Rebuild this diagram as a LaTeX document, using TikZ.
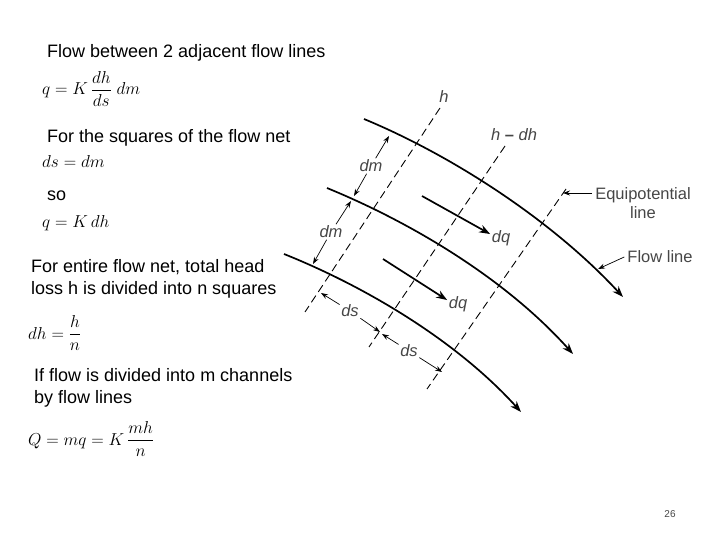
\documentclass[tikz,border=0pt]{standalone}
\usepackage{amsmath}
\usepackage{fontspec}
\setmainfont{Liberation Sans}
\usetikzlibrary{arrows.meta}
\definecolor{NetGray}{RGB}{70,70,70}
\begin{document}
\begin{tikzpicture}[
    x=1pt,y=-1pt,
    txt/.style={anchor=base west,inner sep=0pt,align=left,font=\fontsize{18}{21.5}\selectfont},
    eqn/.style={anchor=base west,inner sep=0pt,font=\fontsize{18.5}{22}\selectfont},
    lab/.style={inner sep=1.5pt,text=NetGray,font=\fontsize{16.5}{19}\selectfont\itshape},
    callout/.style={inner sep=3pt,text=NetGray,align=center,font=\fontsize{16.5}{19}\selectfont},
    flow/.style={line width=1.7pt,-{Stealth[length=11pt,width=8pt]}},
    equi/.style={line width=0.9pt,dash pattern=on 8pt off 4.5pt},
    spacing/.style={line width=0.7pt,-{Stealth[length=7pt,width=5pt]}}
  ]
    \useasboundingbox (0,0) rectangle (720,540);
    % left column
    \node[txt] (t1) at (47,58) {Flow between 2 adjacent flow lines};
    \node[eqn] (e1) at (42,95) {$\displaystyle q=K\,\frac{dh}{ds}\;dm$};
    \node[txt] (t2) at (47,143) {For the squares of the flow net};
    \node[eqn] (e2) at (42,168) {$ds=dm$};
    \node[txt] (t3) at (47,201) {so};
    \node[eqn] (e3) at (42,227) {$q=K\,dh$};
    \node[txt] (t4) at (31,294) {For entire flow net, total head\\loss h is divided into n squares};
    \node[eqn] (e4) at (28,339) {$\displaystyle dh=\frac{h}{n}$};
    \node[txt] (t5) at (34,403) {If flow is divided into m channels\\by flow lines};
    \node[eqn] (e5) at (28,445) {$\displaystyle Q=mq=K\,\frac{mh}{n}$};
    \node[inner sep=0pt,text=NetGray,font=\fontsize{10}{12}\selectfont] (page) at (670,514) {26};
    % equipotential lines
    \node[lab] (h) at (444,97) {h};
    \node[lab] (hdh) at (514,135) {h {\upshape\bfseries--} dh};
    \coordinate (a1) at (440,108);
    \coordinate (a2) at (305,312);
    \coordinate (b1) at (505,146);
    \coordinate (b2) at (369,347);
    \coordinate (c1) at (566,189);
    \coordinate (c2) at (427,389);
    \draw[equi] (a1) -- (a2);
    \draw[equi] (b1) -- (b2);
    \draw[equi] (c1) -- (c2);
    % flow lines
    \coordinate (f1) at (364,119);
    \coordinate (f2) at (623,297);
    \coordinate (g1) at (327,188);
    \coordinate (g2) at (573,354);
    \coordinate (k1) at (284,254);
    \coordinate (k2) at (521,412);
    \draw[flow] (f1) .. controls (451,155) and (552,220) .. (f2);
    \draw[flow] (g1) .. controls (410,222) and (505,278) .. (g2);
    \draw[flow] (k1) .. controls (364,286) and (456,340) .. (k2);
    % flow increments
    \node[lab] (dq1) at (501,238) {dq};
    \node[lab] (dq2) at (458,304) {dq};
    \coordinate (q1) at (422,196);
    \coordinate (q2) at (383,259);
    \draw[flow] (q1) -- (dq1.160);
    \draw[flow] (q2) -- (dq2.160);
    % spacing marks
    \node[lab] (dm1) at (371,166) {dm};
    \node[lab] (dm2) at (331,232) {dm};
    \node[lab] (ds1) at (350,311) {ds};
    \node[lab] (ds2) at (409,351) {ds};
    \coordinate (m1) at (389,136);
    \coordinate (m2) at (354,196);
    \coordinate (m3) at (351,201);
    \coordinate (m4) at (313,264);
    \coordinate (s1) at (321,293);
    \coordinate (s2) at (380,332);
    \coordinate (s3) at (382,334);
    \coordinate (s4) at (442,372);
    \draw[spacing] (dm1) -- (m1);
    \draw[spacing] (dm1) -- (m2);
    \draw[spacing] (dm2) -- (m3);
    \draw[spacing] (dm2) -- (m4);
    \draw[spacing] (ds1) -- (s1);
    \draw[spacing] (ds1) -- (s2);
    \draw[spacing] (ds2) -- (s3);
    \draw[spacing] (ds2) -- (s4);
    % callouts
    \node[callout] (equip) at (643,203) {Equipotential\\line};
    \node[callout] (fline) at (660,257) {Flow line};
    \coordinate (p1) at (563,193);
    \coordinate (p2) at (598,269);
    \draw[spacing] (equip.west |- p1) -- (p1);
    \draw[spacing] (fline.west) -- (p2);
  \end{tikzpicture}
\end{document}
